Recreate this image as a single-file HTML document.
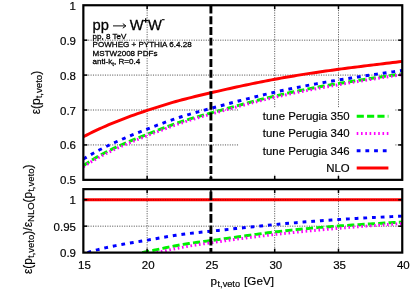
<!DOCTYPE html><html><head><meta charset="utf-8"><title>plot</title><style>html,body{margin:0;padding:0;background:#fff;overflow:hidden;}svg{display:block;}text{font-family:"Liberation Sans",sans-serif;fill:#000;stroke:#000;stroke-width:0.18px;}.sm{stroke-width:0.28px;}</style></head><body>
<svg width="415" height="291" viewBox="0 0 415 291">
<rect width="415" height="291" fill="#fff"/>
<defs><clipPath id="ct"><rect x="83.35" y="5.25" width="318.9" height="174.6"/></clipPath><clipPath id="cb"><rect x="83.35" y="189.15" width="318.9" height="63.44999999999999"/></clipPath><mask id="m"><rect width="415" height="291" fill="#fff"/></mask></defs>
<line x1="83.35" x2="402.25" y1="40.17" y2="40.17" stroke="#000" stroke-width="0.75" stroke-dasharray="1.1,1.3" opacity="0.88"/>
<line x1="83.35" x2="402.25" y1="75.09" y2="75.09" stroke="#000" stroke-width="0.75" stroke-dasharray="1.1,1.3" opacity="0.88"/>
<line x1="83.35" x2="402.25" y1="110.01" y2="110.01" stroke="#000" stroke-width="0.75" stroke-dasharray="1.1,1.3" opacity="0.88"/>
<line x1="83.35" x2="402.25" y1="144.93" y2="144.93" stroke="#000" stroke-width="0.75" stroke-dasharray="1.1,1.3" opacity="0.88"/>
<line x1="147.13" x2="147.13" y1="5.25" y2="179.85" stroke="#000" stroke-width="0.75" stroke-dasharray="1.1,1.3" opacity="0.88"/>
<line x1="147.13" x2="147.13" y1="189.15" y2="252.6" stroke="#000" stroke-width="0.75" stroke-dasharray="1.1,1.3" opacity="0.88"/>
<line x1="274.69" x2="274.69" y1="5.25" y2="179.85" stroke="#000" stroke-width="0.75" stroke-dasharray="1.1,1.3" opacity="0.88"/>
<line x1="274.69" x2="274.69" y1="189.15" y2="252.6" stroke="#000" stroke-width="0.75" stroke-dasharray="1.1,1.3" opacity="0.88"/>
<line x1="338.47" x2="338.47" y1="5.25" y2="179.85" stroke="#000" stroke-width="0.75" stroke-dasharray="1.1,1.3" opacity="0.88"/>
<line x1="338.47" x2="338.47" y1="189.15" y2="252.6" stroke="#000" stroke-width="0.75" stroke-dasharray="1.1,1.3" opacity="0.88"/>
<line x1="83.35" x2="402.25" y1="226.16" y2="226.16" stroke="#000" stroke-width="0.75" stroke-dasharray="1.1,1.3" opacity="0.88"/>
<g clip-path="url(#ct)" fill="none">
<path d="M83.35,165.68 L86.54,163.53 L89.73,161.47 L92.92,159.49 L96.11,157.59 L99.29,155.76 L102.48,154.01 L105.67,152.32 L108.86,150.70 L112.05,149.13 L115.24,147.62 L118.43,146.16 L121.62,144.74 L124.81,143.36 L128.00,142.02 L131.19,140.71 L134.37,139.42 L137.56,138.15 L140.75,136.89 L143.94,135.64 L147.13,134.39 L150.32,133.14 L153.51,131.89 L156.70,130.65 L159.89,129.41 L163.07,128.19 L166.26,126.99 L169.45,125.80 L172.64,124.65 L175.83,123.52 L179.02,122.43 L182.21,121.37 L185.40,120.35 L188.59,119.37 L191.78,118.41 L194.96,117.47 L198.15,116.55 L201.34,115.65 L204.53,114.76 L207.72,113.88 L210.91,112.99 L214.10,112.11 L217.29,111.23 L220.48,110.34 L223.67,109.46 L226.85,108.58 L230.04,107.69 L233.23,106.82 L236.42,105.94 L239.61,105.07 L242.80,104.21 L245.99,103.35 L249.18,102.50 L252.37,101.66 L255.56,100.83 L258.75,100.00 L261.93,99.19 L265.12,98.39 L268.31,97.60 L271.50,96.83 L274.69,96.07 L277.88,95.32 L281.07,94.59 L284.26,93.87 L287.45,93.17 L290.63,92.48 L293.82,91.80 L297.01,91.14 L300.20,90.49 L303.39,89.85 L306.58,89.22 L309.77,88.60 L312.96,88.00 L316.15,87.40 L319.34,86.82 L322.52,86.24 L325.71,85.68 L328.90,85.12 L332.09,84.57 L335.28,84.03 L338.47,83.50 L341.66,82.97 L344.85,82.45 L348.04,81.94 L351.23,81.43 L354.41,80.93 L357.60,80.44 L360.79,79.94 L363.98,79.46 L367.17,78.97 L370.36,78.49 L373.55,78.01 L376.74,77.54 L379.93,77.06 L383.12,76.59 L386.30,76.12 L389.49,75.65 L392.68,75.18 L395.87,74.71 L399.06,74.24 L402.25,73.77" stroke="#00f000" stroke-width="2.95" stroke-dasharray="7.15,3.2"/>
<path d="M83.35,166.68 L86.54,164.64 L89.73,162.67 L92.92,160.77 L96.11,158.94 L99.29,157.16 L102.48,155.45 L105.67,153.80 L108.86,152.19 L112.05,150.64 L115.24,149.13 L118.43,147.67 L121.62,146.24 L124.81,144.85 L128.00,143.49 L131.19,142.16 L134.37,140.85 L137.56,139.56 L140.75,138.28 L143.94,137.02 L147.13,135.76 L150.32,134.50 L153.51,133.25 L156.70,132.01 L159.89,130.78 L163.07,129.57 L166.26,128.37 L169.45,127.19 L172.64,126.03 L175.83,124.90 L179.02,123.80 L182.21,122.73 L185.40,121.69 L188.59,120.67 L191.78,119.68 L194.96,118.72 L198.15,117.77 L201.34,116.83 L204.53,115.91 L207.72,115.00 L210.91,114.09 L214.10,113.19 L217.29,112.30 L220.48,111.40 L223.67,110.52 L226.85,109.64 L230.04,108.76 L233.23,107.89 L236.42,107.03 L239.61,106.18 L242.80,105.33 L245.99,104.49 L249.18,103.66 L252.37,102.84 L255.56,102.03 L258.75,101.23 L261.93,100.44 L265.12,99.66 L268.31,98.89 L271.50,98.13 L274.69,97.39 L277.88,96.65 L281.07,95.94 L284.26,95.23 L287.45,94.53 L290.63,93.85 L293.82,93.18 L297.01,92.52 L300.20,91.86 L303.39,91.22 L306.58,90.59 L309.77,89.97 L312.96,89.36 L316.15,88.76 L319.34,88.16 L322.52,87.57 L325.71,87.00 L328.90,86.42 L332.09,85.86 L335.28,85.30 L338.47,84.75 L341.66,84.21 L344.85,83.67 L348.04,83.14 L351.23,82.61 L354.41,82.09 L357.60,81.57 L360.79,81.06 L363.98,80.55 L367.17,80.04 L370.36,79.53 L373.55,79.03 L376.74,78.53 L379.93,78.04 L383.12,77.54 L386.30,77.05 L389.49,76.56 L392.68,76.06 L395.87,75.57 L399.06,75.08 L402.25,74.59" stroke="#ff00ff" stroke-width="2.95" stroke-dasharray="1.6,2.7"/>
<path d="M83.35,159.04 L86.54,157.13 L89.73,155.27 L92.92,153.47 L96.11,151.73 L99.29,150.04 L102.48,148.40 L105.67,146.80 L108.86,145.25 L112.05,143.74 L115.24,142.28 L118.43,140.84 L121.62,139.44 L124.81,138.07 L128.00,136.73 L131.19,135.42 L134.37,134.12 L137.56,132.85 L140.75,131.58 L143.94,130.34 L147.13,129.10 L150.32,127.86 L153.51,126.64 L156.70,125.43 L159.89,124.23 L163.07,123.05 L166.26,121.89 L169.45,120.75 L172.64,119.64 L175.83,118.55 L179.02,117.50 L182.21,116.49 L185.40,115.50 L188.59,114.55 L191.78,113.62 L194.96,112.71 L198.15,111.82 L201.34,110.94 L204.53,110.07 L207.72,109.22 L210.91,108.36 L214.10,107.51 L217.29,106.66 L220.48,105.81 L223.67,104.96 L226.85,104.12 L230.04,103.28 L233.23,102.44 L236.42,101.61 L239.61,100.78 L242.80,99.96 L245.99,99.14 L249.18,98.33 L252.37,97.54 L255.56,96.74 L258.75,95.96 L261.93,95.19 L265.12,94.43 L268.31,93.68 L271.50,92.94 L274.69,92.21 L277.88,91.50 L281.07,90.80 L284.26,90.11 L287.45,89.44 L290.63,88.77 L293.82,88.12 L297.01,87.48 L300.20,86.85 L303.39,86.23 L306.58,85.62 L309.77,85.02 L312.96,84.43 L316.15,83.85 L319.34,83.28 L322.52,82.72 L325.71,82.16 L328.90,81.61 L332.09,81.08 L335.28,80.54 L338.47,80.02 L341.66,79.50 L344.85,78.99 L348.04,78.49 L351.23,77.99 L354.41,77.49 L357.60,77.00 L360.79,76.52 L363.98,76.04 L367.17,75.56 L370.36,75.09 L373.55,74.62 L376.74,74.15 L379.93,73.69 L383.12,73.23 L386.30,72.77 L389.49,72.31 L392.68,71.85 L395.87,71.40 L399.06,70.94 L402.25,70.49" stroke="#0000ff" stroke-width="2.95" stroke-dasharray="3.8,4.9"/>
<path d="M83.35,136.72 L86.54,135.07 L89.73,133.47 L92.92,131.91 L96.11,130.39 L99.29,128.91 L102.48,127.47 L105.67,126.06 L108.86,124.70 L112.05,123.36 L115.24,122.06 L118.43,120.78 L121.62,119.54 L124.81,118.32 L128.00,117.13 L131.19,115.97 L134.37,114.82 L137.56,113.70 L140.75,112.59 L143.94,111.50 L147.13,110.43 L150.32,109.37 L153.51,108.33 L156.70,107.30 L159.89,106.29 L163.07,105.30 L166.26,104.33 L169.45,103.37 L172.64,102.44 L175.83,101.54 L179.02,100.65 L182.21,99.79 L185.40,98.95 L188.59,98.13 L191.78,97.33 L194.96,96.55 L198.15,95.78 L201.34,95.02 L204.53,94.27 L207.72,93.53 L210.91,92.79 L214.10,92.06 L217.29,91.33 L220.48,90.61 L223.67,89.89 L226.85,89.17 L230.04,88.46 L233.23,87.75 L236.42,87.06 L239.61,86.36 L242.80,85.68 L245.99,85.00 L249.18,84.33 L252.37,83.66 L255.56,83.01 L258.75,82.36 L261.93,81.73 L265.12,81.10 L268.31,80.48 L271.50,79.88 L274.69,79.28 L277.88,78.70 L281.07,78.12 L284.26,77.56 L287.45,77.01 L290.63,76.47 L293.82,75.93 L297.01,75.41 L300.20,74.90 L303.39,74.39 L306.58,73.90 L309.77,73.41 L312.96,72.93 L316.15,72.45 L319.34,71.99 L322.52,71.53 L325.71,71.08 L328.90,70.63 L332.09,70.19 L335.28,69.76 L338.47,69.33 L341.66,68.90 L344.85,68.49 L348.04,68.07 L351.23,67.66 L354.41,67.25 L357.60,66.85 L360.79,66.45 L363.98,66.05 L367.17,65.66 L370.36,65.27 L373.55,64.88 L376.74,64.49 L379.93,64.10 L383.12,63.72 L386.30,63.33 L389.49,62.94 L392.68,62.56 L395.87,62.17 L399.06,61.79 L402.25,61.40" stroke="#ff0000" stroke-width="2.95"/>
</g>
<rect x="239" y="108" width="155.60000000000002" height="66.5" fill="#fff"/>
<g clip-path="url(#cb)" fill="none">
<path d="M142.16,252.59 L145.08,252.04 L148.00,251.47 L150.92,250.89 L153.84,250.28 L156.77,249.66 L159.69,249.04 L162.61,248.41 L165.53,247.78 L168.46,247.17 L171.38,246.57 L174.30,245.98 L177.22,245.43 L180.15,244.90 L183.07,244.40 L185.99,243.93 L188.91,243.48 L191.84,243.05 L194.76,242.65 L197.68,242.25 L200.60,241.87 L203.53,241.49 L206.45,241.12 L209.37,240.74 L212.29,240.36 L215.22,239.98 L218.14,239.59 L221.06,239.20 L223.98,238.80 L226.91,238.40 L229.83,237.99 L232.75,237.59 L235.67,237.18 L238.59,236.77 L241.52,236.37 L244.44,235.96 L247.36,235.56 L250.28,235.15 L253.21,234.76 L256.13,234.36 L259.05,233.97 L261.97,233.58 L264.90,233.20 L267.82,232.83 L270.74,232.46 L273.66,232.10 L276.59,231.75 L279.51,231.41 L282.43,231.08 L285.35,230.75 L288.28,230.43 L291.20,230.12 L294.12,229.82 L297.04,229.52 L299.97,229.24 L302.89,228.95 L305.81,228.68 L308.73,228.41 L311.66,228.15 L314.58,227.89 L317.50,227.64 L320.42,227.40 L323.34,227.16 L326.27,226.93 L329.19,226.70 L332.11,226.47 L335.03,226.26 L337.96,226.04 L340.88,225.83 L343.80,225.63 L346.72,225.42 L349.65,225.22 L352.57,225.03 L355.49,224.84 L358.41,224.65 L361.34,224.46 L364.26,224.28 L367.18,224.10 L370.10,223.92 L373.03,223.74 L375.95,223.57 L378.87,223.39 L381.79,223.22 L384.72,223.05 L387.64,222.88 L390.56,222.71 L393.48,222.54 L396.41,222.37 L399.33,222.21 L402.25,222.04" stroke="#00f000" stroke-width="2.95" stroke-dasharray="7.15,3.2"/>
<path d="M156.70,252.59 L159.46,252.00 L162.22,251.41 L164.97,250.82 L167.73,250.23 L170.49,249.66 L173.25,249.09 L176.01,248.53 L178.77,248.00 L181.53,247.48 L184.29,246.98 L187.05,246.49 L189.81,246.02 L192.56,245.56 L195.32,245.11 L198.08,244.68 L200.84,244.26 L203.60,243.84 L206.36,243.43 L209.12,243.03 L211.88,242.63 L214.64,242.23 L217.40,241.84 L220.15,241.45 L222.91,241.06 L225.67,240.68 L228.43,240.30 L231.19,239.93 L233.95,239.55 L236.71,239.19 L239.47,238.82 L242.23,238.46 L244.99,238.10 L247.74,237.75 L250.50,237.40 L253.26,237.06 L256.02,236.72 L258.78,236.38 L261.54,236.05 L264.30,235.72 L267.06,235.39 L269.82,235.07 L272.58,234.76 L275.33,234.44 L278.09,234.14 L280.85,233.83 L283.61,233.53 L286.37,233.24 L289.13,232.95 L291.89,232.66 L294.65,232.38 L297.41,232.10 L300.17,231.82 L302.93,231.55 L305.68,231.28 L308.44,231.02 L311.20,230.75 L313.96,230.49 L316.72,230.24 L319.48,229.99 L322.24,229.74 L325.00,229.49 L327.76,229.25 L330.52,229.01 L333.27,228.77 L336.03,228.54 L338.79,228.30 L341.55,228.07 L344.31,227.85 L347.07,227.62 L349.83,227.40 L352.59,227.18 L355.35,226.96 L358.11,226.75 L360.86,226.53 L363.62,226.32 L366.38,226.11 L369.14,225.90 L371.90,225.70 L374.66,225.49 L377.42,225.29 L380.18,225.09 L382.94,224.89 L385.70,224.69 L388.45,224.49 L391.21,224.29 L393.97,224.10 L396.73,223.90 L399.49,223.71 L402.25,223.52" stroke="#ff00ff" stroke-width="2.95" stroke-dasharray="1.6,2.7"/>
<path d="M87.50,252.58 L91.03,251.51 L94.57,250.51 L98.11,249.57 L101.64,248.69 L105.18,247.85 L108.72,247.07 L112.25,246.33 L115.79,245.62 L119.32,244.95 L122.86,244.30 L126.40,243.67 L129.93,243.07 L133.47,242.47 L137.01,241.88 L140.54,241.29 L144.08,240.69 L147.62,240.09 L151.15,239.48 L154.69,238.86 L158.23,238.24 L161.76,237.62 L165.30,237.01 L168.84,236.42 L172.37,235.84 L175.91,235.29 L179.45,234.77 L182.98,234.29 L186.52,233.84 L190.06,233.41 L193.59,233.00 L197.13,232.62 L200.67,232.24 L204.20,231.87 L207.74,231.51 L211.28,231.15 L214.81,230.78 L218.35,230.41 L221.89,230.04 L225.42,229.67 L228.96,229.29 L232.49,228.92 L236.03,228.54 L239.57,228.16 L243.10,227.79 L246.64,227.41 L250.18,227.04 L253.71,226.67 L257.25,226.31 L260.79,225.95 L264.32,225.59 L267.86,225.24 L271.40,224.89 L274.93,224.55 L278.47,224.22 L282.01,223.90 L285.54,223.58 L289.08,223.27 L292.62,222.96 L296.15,222.66 L299.69,222.37 L303.23,222.09 L306.76,221.81 L310.30,221.53 L313.84,221.27 L317.37,221.00 L320.91,220.75 L324.45,220.50 L327.98,220.25 L331.52,220.01 L335.06,219.78 L338.59,219.55 L342.13,219.32 L345.66,219.10 L349.20,218.88 L352.74,218.67 L356.27,218.47 L359.81,218.26 L363.35,218.06 L366.88,217.87 L370.42,217.68 L373.96,217.49 L377.49,217.31 L381.03,217.13 L384.57,216.95 L388.10,216.78 L391.64,216.61 L395.18,216.44 L398.71,216.28 L402.25,216.12" stroke="#0000ff" stroke-width="2.95" stroke-dasharray="3.8,4.9"/>
<line x1="83.35" x2="402.25" y1="199.73" y2="199.73" stroke="#ff0000" stroke-width="2.95"/>
<line x1="83.35" x2="402.25" y1="199.73" y2="199.73" stroke="#300" stroke-width="1" stroke-dasharray="1,1.4" opacity="0.5"/>
</g>
<line x1="210.91" x2="210.91" y1="5.25" y2="179.85" stroke="#000" stroke-width="2.9" stroke-dasharray="7.9,2.8" stroke-dashoffset="10.35"/>
<line x1="210.91" x2="210.91" y1="189.15" y2="252.6" stroke="#000" stroke-width="2.9" stroke-dasharray="8.7,2.6" stroke-dashoffset="8.95"/>
<line x1="83.35" x2="87.35" y1="40.17" y2="40.17" stroke="#000" stroke-width="1.5"/><line x1="402.25" x2="398.25" y1="40.17" y2="40.17" stroke="#000" stroke-width="1.5"/>
<line x1="83.35" x2="87.35" y1="75.09" y2="75.09" stroke="#000" stroke-width="1.5"/><line x1="402.25" x2="398.25" y1="75.09" y2="75.09" stroke="#000" stroke-width="1.5"/>
<line x1="83.35" x2="87.35" y1="110.01" y2="110.01" stroke="#000" stroke-width="1.5"/><line x1="402.25" x2="398.25" y1="110.01" y2="110.01" stroke="#000" stroke-width="1.5"/>
<line x1="83.35" x2="87.35" y1="144.93" y2="144.93" stroke="#000" stroke-width="1.5"/><line x1="402.25" x2="398.25" y1="144.93" y2="144.93" stroke="#000" stroke-width="1.5"/>
<line x1="83.35" x2="87.35" y1="226.16" y2="226.16" stroke="#000" stroke-width="1.5"/><line x1="402.25" x2="398.25" y1="226.16" y2="226.16" stroke="#000" stroke-width="1.5"/>
<line x1="83.35" x2="87.35" y1="199.73" y2="199.73" stroke="#000" stroke-width="1.5"/><line x1="402.25" x2="398.25" y1="199.73" y2="199.73" stroke="#000" stroke-width="1.5"/>
<line x1="147.13" x2="147.13" y1="5.25" y2="9.25" stroke="#000" stroke-width="1.5"/>
<line x1="147.13" x2="147.13" y1="179.85" y2="175.85" stroke="#000" stroke-width="1.5"/>
<line x1="147.13" x2="147.13" y1="189.15" y2="193.15" stroke="#000" stroke-width="1.5"/>
<line x1="147.13" x2="147.13" y1="252.6" y2="248.6" stroke="#000" stroke-width="1.5"/>
<line x1="210.91" x2="210.91" y1="5.25" y2="9.25" stroke="#000" stroke-width="1.5"/>
<line x1="210.91" x2="210.91" y1="179.85" y2="175.85" stroke="#000" stroke-width="1.5"/>
<line x1="210.91" x2="210.91" y1="189.15" y2="193.15" stroke="#000" stroke-width="1.5"/>
<line x1="210.91" x2="210.91" y1="252.6" y2="248.6" stroke="#000" stroke-width="1.5"/>
<line x1="274.69" x2="274.69" y1="5.25" y2="9.25" stroke="#000" stroke-width="1.5"/>
<line x1="274.69" x2="274.69" y1="179.85" y2="175.85" stroke="#000" stroke-width="1.5"/>
<line x1="274.69" x2="274.69" y1="189.15" y2="193.15" stroke="#000" stroke-width="1.5"/>
<line x1="274.69" x2="274.69" y1="252.6" y2="248.6" stroke="#000" stroke-width="1.5"/>
<line x1="338.47" x2="338.47" y1="5.25" y2="9.25" stroke="#000" stroke-width="1.5"/>
<line x1="338.47" x2="338.47" y1="179.85" y2="175.85" stroke="#000" stroke-width="1.5"/>
<line x1="338.47" x2="338.47" y1="189.15" y2="193.15" stroke="#000" stroke-width="1.5"/>
<line x1="338.47" x2="338.47" y1="252.6" y2="248.6" stroke="#000" stroke-width="1.5"/>
<rect x="83.35" y="5.25" width="318.9" height="174.6" fill="none" stroke="#000" stroke-width="2.2"/>
<rect x="83.35" y="189.15" width="318.9" height="63.44999999999999" fill="none" stroke="#000" stroke-width="2.2"/>
<g mask="url(#m)">
<text x="76.0" y="9.75" font-size="11.5" text-anchor="end">1</text>
<text x="76.0" y="44.67" font-size="11.5" text-anchor="end">0.9</text>
<text x="76.0" y="79.59" font-size="11.5" text-anchor="end">0.8</text>
<text x="76.0" y="114.51" font-size="11.5" text-anchor="end">0.7</text>
<text x="76.0" y="149.43" font-size="11.5" text-anchor="end">0.6</text>
<text x="76.0" y="184.35" font-size="11.5" text-anchor="end">0.5</text>
<text x="76.0" y="204.23" font-size="11.5" text-anchor="end">1</text>
<text x="76.0" y="230.66" font-size="11.5" text-anchor="end">0.95</text>
<text x="76.0" y="257.10" font-size="11.5" text-anchor="end">0.9</text>
<text x="84.45" y="268.5" font-size="11.5" text-anchor="middle">15</text>
<text x="148.23" y="268.5" font-size="11.5" text-anchor="middle">20</text>
<text x="212.01" y="268.5" font-size="11.5" text-anchor="middle">25</text>
<text x="275.79" y="268.5" font-size="11.5" text-anchor="middle">30</text>
<text x="339.57" y="268.5" font-size="11.5" text-anchor="middle">35</text>
<text x="403.35" y="268.5" font-size="11.5" text-anchor="middle">40</text>
<text x="349.6" y="120.20" font-size="11.4" text-anchor="end">tune Perugia 350</text>
<line x1="356.7" x2="388.4" y1="116.2" y2="116.2" stroke="#00f000" stroke-width="2.95" stroke-dasharray="7.15,3.2"/>
<text x="349.6" y="137.40" font-size="11.4" text-anchor="end">tune Perugia 340</text>
<line x1="356.7" x2="388.4" y1="133.4" y2="133.4" stroke="#ff00ff" stroke-width="2.95" stroke-dasharray="1.6,2.7"/>
<text x="349.6" y="154.80" font-size="11.4" text-anchor="end">tune Perugia 346</text>
<line x1="356.7" x2="388.4" y1="150.8" y2="150.8" stroke="#0000ff" stroke-width="2.95" stroke-dasharray="3.8,4.9"/>
<text x="349.6" y="171.90" font-size="11.4" text-anchor="end">NLO</text>
<line x1="356.7" x2="388.4" y1="167.9" y2="167.9" stroke="#ff0000" stroke-width="2.95"/>
<text class="sm" x="92.6" y="29.5" font-size="14.7">pp</text>
<path d="M113.0,25.9 H125.6 M122.8,23.6 L125.9,25.9 L122.8,28.2" fill="none" stroke="#000" stroke-width="0.95"/>
<text class="sm" x="129.8" y="29.5" font-size="14.7">W</text>
<path d="M143.4,20.5 H148.0 M145.7,18.2 V22.8" fill="none" stroke="#000" stroke-width="1.25"/>
<text class="sm" x="147.9" y="29.5" font-size="14.7">W</text>
<path d="M162.0,19.7 H164.6" fill="none" stroke="#000" stroke-width="1.1"/>
<text class="sm" x="92.6" y="38.5" font-size="8.06">pp, 8 TeV</text>
<text class="sm" x="92.6" y="47.0" font-size="8.06">POWHEG + PYTHIA 6.4.28</text>
<text class="sm" x="92.6" y="55.8" font-size="8.06">MSTW2008 PDFs</text>
<text class="sm" x="92.6" y="64.0" font-size="8.06">anti-k<tspan font-size="6" dy="2">t</tspan><tspan dy="-2">, R=0.4</tspan></text>
<text transform="translate(39.6,92.6) rotate(-90)" font-size="12.0" text-anchor="middle">ε(p<tspan font-size="9.6" dy="2.6">t,veto</tspan><tspan dy="-2.6">)</tspan></text>
<text transform="translate(31.6,219.3) rotate(-90)" font-size="11.9" text-anchor="middle">ε(p<tspan font-size="9.5" dy="2.6" dx="0.2">t,veto</tspan><tspan dy="-2.6">)/</tspan><tspan dx="0.2">ε</tspan><tspan font-size="9.5" dy="2.6">NLO</tspan><tspan dy="-2.6">(p</tspan><tspan font-size="9.5" dy="2.6">t,veto</tspan><tspan dy="-2.6">)</tspan></text>
<text x="242.2" y="284.6" font-size="11.7" text-anchor="middle">p<tspan font-size="9.2" dy="2.2" dx="0.6">t,veto</tspan><tspan dy="-2.2" dx="0.8"> [GeV]</tspan></text>
</g>
</svg></body></html>
